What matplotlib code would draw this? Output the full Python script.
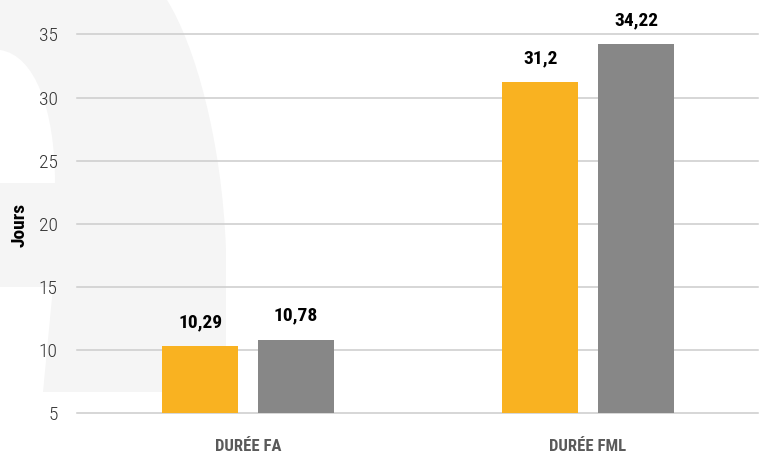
import matplotlib
matplotlib.use("Agg")
import matplotlib.pyplot as plt
import numpy as np
from matplotlib.path import Path
from matplotlib.patches import PathPatch
from matplotlib import font_manager

categories = ["DURÉE FA", "DURÉE FML"]
serie_a = [10.29, 31.2]
serie_b = [10.78, 34.22]
labels_a = ["10,29", "31,2"]
labels_b = ["10,78", "34,22"]
yticks = [5, 10, 15, 20, 25, 30, 35]

ORANGE = "#f9b221"
GRAY = "#878787"

names = {f.name for f in font_manager.fontManager.ttflist}
cands = ["Liberation Sans Narrow", "DejaVu Sans Condensed", "Roboto Condensed"]
FONT = [c for c in cands if c in names] + ["DejaVu Sans"]
plt.rcParams["font.family"] = FONT
plt.rcParams["font.stretch"] = "condensed"

W, H = 763, 455
fig = plt.figure(figsize=(W / 100, H / 100), dpi=100)


# decorative light gray letter shape in the background (pixel coords from top-left)
def px(x, y):
    return (x / W, 1 - y / H)


verts = [
    px(0, 0), px(167, 0),
    px(195, 45), px(222, 140), px(226, 250),
    px(226, 392), px(43, 392), px(53, 287), px(0, 287), px(0, 183), px(55, 183),
    px(55, 110), px(35, 55), px(0, 50),
    px(0, 0),
]
codes = [Path.MOVETO, Path.LINETO,
         Path.CURVE4, Path.CURVE4, Path.CURVE4,
         Path.LINETO, Path.LINETO, Path.LINETO, Path.LINETO, Path.LINETO, Path.LINETO,
         Path.CURVE4, Path.CURVE4, Path.CURVE4,
         Path.CLOSEPOLY]
fig.patches.append(PathPatch(Path(verts, codes), transform=fig.transFigure,
                             facecolor="#f5f5f5", edgecolor="none", zorder=-10))

ax = fig.add_axes([77 / W, 1 - 413 / H, (758 - 77) / W, (413 - 34.5) / H])
ax.patch.set_visible(False)

x = np.arange(len(categories))
width = 0.2235
off = 0.141
bars_a = ax.bar(x - off, serie_a, width, bottom=0, color=ORANGE, zorder=3)
bars_b = ax.bar(x + off, serie_b, width, bottom=0, color=GRAY, zorder=3)

for bars, labs in [(bars_a, labels_a), (bars_b, labels_b)]:
    for b, lab in zip(bars, labs):
        ax.annotate(lab, (b.get_x() + b.get_width() / 2, b.get_height()),
                    xytext=(0, 17.5), textcoords="offset points",
                    ha="center", va="center", fontsize=14, fontweight="bold",
                    color="black", annotation_clip=False)

ax.set_ylim(5, 35)
ax.set_xlim(-0.503, 1.5)
ax.set_yticks(yticks)
ax.set_yticklabels([str(t) for t in yticks], fontsize=14, color="#333333",
                   fontweight="light")
ax.set_xticks(x)
ax.set_xticklabels(categories, fontsize=12, fontweight="bold", color="#5a5a5a")
ax.tick_params(axis="both", length=0)
ax.tick_params(axis="y", pad=14)
ax.tick_params(axis="x", pad=19)
ax.grid(axis="y", color="#cccccc", linewidth=1.1, zorder=0)
for gl in ax.get_ygridlines():
    gl.set_clip_on(False)
ax.spines[["top", "right", "left", "bottom"]].set_visible(False)

fig.text(20 / W, 1 - 225 / H, "Jours", rotation=90, ha="center", va="center",
         fontsize=14, fontweight="bold", color="black")

fig.savefig("out.png", dpi=100, facecolor="white")
